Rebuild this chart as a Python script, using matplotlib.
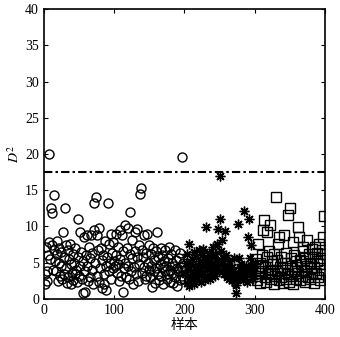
import numpy as np
import matplotlib.pyplot as plt

# D^2 per sample; three groups (samples 1-200, 201-300, 301-400)
d2_circle = [2, 3.5, 7.2, 2.5, 3.8, 6, 7.8, 20, 5.5, 12.5,
             11.8, 7.5, 4, 14.3, 6.8, 5.2, 3.8, 8, 6.2, 2.5,
             5, 7, 3.2, 6.5, 4.5, 2.8, 9.2, 5.8, 3.5, 12.6,
             7.5, 4.2, 2.2, 6.8, 3, 5.5, 7.6, 2, 4.8, 3.6,
             6.2, 2.6, 5, 3.4, 7, 4, 2.3, 5.8, 11, 3.2,
             9.2, 4.6, 6.5, 2.8, 0.8, 5.2, 8.5, 3.8, 1, 6,
             8.8, 4.5, 2.5, 7.2, 5.6, 3, 8.8, 6.3, 4, 2,
             13.2, 9.5, 5, 14, 8.8, 3.2, 6.8, 9.8, 2.4, 4.2,
             7, 5.4, 1.5, 6, 3.5, 2, 8, 4.6, 1.2, 5.8,
             13.2, 7.6, 3.8, 5, 9, 2.7, 6.3, 4.3, 7.8, 5.2,
             4.5, 9, 6, 3.6, 7.2, 4.8, 2.5, 5.5, 9.5, 3.2,
             8.8, 6.6, 1, 4.2, 10.2, 5, 3, 7, 9.8, 4.6,
             2.8, 6.2, 12, 3.8, 5.6, 8.2, 2, 4.4, 9.2, 6.6,
             3.4, 5.8, 9.6, 2.5, 7.4, 4.8, 14.5, 15.3, 6.8, 3.6,
             5.8, 8.8, 4.4, 2.8, 6.4, 3.2, 9, 5, 4, 7.4,
             3, 6.2, 4.6, 1.6, 7, 3.8, 5.4, 2.2, 6.6, 4.2,
             9.3, 3.5, 5.8, 2.6, 4.8, 7, 3.2, 6, 4.4, 2,
             5.2, 3.8, 6.8, 4.5, 2.8, 5.6, 3.4, 7.2, 4, 2.4,
             6.2, 3.6, 5, 2.2, 4.6, 6.8, 3, 5.4, 1.8, 4.2,
             3.8, 5.6, 2.6, 6.4, 4.4, 19.6, 3.2, 5, 2.8, 4]
d2_star = [3.5, 5, 2.2, 6.2, 4, 1.8, 7.6, 3, 4.8, 2.5,
           5.5, 3.8, 6.5, 2, 4.4, 3.2, 5.8, 2.8, 4.6, 6.8,
           3.6, 5.2, 2.4, 4, 6, 3.4, 6.9, 4.8, 2.6, 5.4,
           9.9, 4.2, 3, 5.6, 6.4, 2.8, 4.6, 3.6, 5, 7.2,
           4, 5.8, 3.2, 6.2, 4.4, 7.6, 5.2, 9.6, 3.8, 11,
           17, 6.6, 8.2, 4.8, 5.6, 3.4, 9.4, 4.2, 6, 3,
           4.6, 3.6, 5.2, 2.8, 4, 3.2, 4.4, 2.6, 3.8, 3,
           5.6, 2.2, 0.8, 1.9, 2.8, 10.3, 3.4, 5.6, 4.2, 3.6,
           4.8, 3.2, 2.6, 4, 12.2, 3, 4.6, 3.8, 2.4, 4.4,
           8.6, 11, 5.7, 3.4, 7.4, 4.2, 2.8, 5, 3.6, 4.8]
d2_square = [3.2, 5.5, 2.6, 4.2, 7.6, 3.6, 2.2, 5, 3.8, 4.6,
             6.1, 9.5, 10.9, 3, 4.4, 2.4, 9.3, 5.8, 3.4, 6.6,
             10.2, 4, 2.8, 5.2, 3.6, 4.8, 2, 6.2, 3.2, 14,
             5.4, 3.8, 7.6, 8.6, 2.6, 4.4, 3, 5.8, 4.2, 2.2,
             8.8, 3.6, 5, 2.8, 6.4, 4, 3.4, 11.6, 2.4, 12.5,
             5.6, 3.2, 4.6, 7.8, 2, 6, 3.8, 5.2, 2.8, 4.4,
             9.9, 3.6, 8.6, 5.4, 2.6, 4.8, 3.2, 6.6, 7.2, 4,
             2.4, 5.6, 3.8, 4.6, 8.2, 3, 6.2, 2.8, 5, 4.2,
             6.9, 3.4, 5.8, 2.2, 4.4, 7.2, 3.6, 5.2, 6.4, 3,
             4.8, 7.6, 2.6, 5.6, 3.4, 6.8, 8.6, 11.4, 4, 6.2]
limit = 17.5

plt.rcParams['font.family'] = ['Liberation Serif', 'Noto Sans CJK SC']
plt.rcParams['mathtext.fontset'] = 'stix'

fig = plt.figure(figsize=(3.4, 3.37), dpi=100)
ax = fig.add_axes([0.129, 0.113, 0.827, 0.86])

x1 = np.arange(1, 201)
x2 = np.arange(201, 301)
x3 = np.arange(301, 401)
ax.plot(x1, d2_circle, 'o', mfc='none', mec='black', ms=6.5, mew=1.0)
ax.plot(x2, d2_star, ls='none', marker=(8, 2, 0), mec='black', ms=7, mew=1.0)
ax.plot(x3, d2_square, 's', mfc='none', mec='black', ms=6.5, mew=1.0)
ax.plot([0, 400], [limit, limit], color='black', lw=1.5,
        ls=(0, (4, 1.5, 1.2, 1.5)))

ax.set_xlim(0, 400)
ax.set_ylim(0, 40)
ax.set_xticks([0, 100, 200, 300, 400])
ax.set_yticks(np.arange(0, 41, 5))
ax.tick_params(direction='in', top=True, right=True, labelsize=10, length=3)
for s in ax.spines.values():
    s.set_linewidth(1.2)
ax.set_xlabel('样本', fontsize=10, family=['Noto Sans CJK SC'], labelpad=1)
ax.set_ylabel('$D^2$', fontsize=10, labelpad=2)

plt.savefig('out.png')
